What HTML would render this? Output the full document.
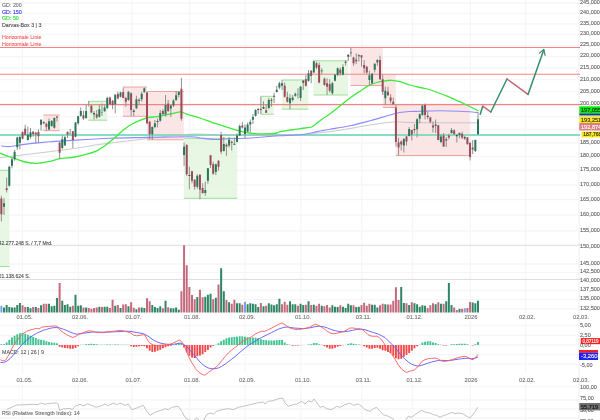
<!DOCTYPE html>
<html><head><meta charset="utf-8"><title>Chart</title>
<style>html,body{margin:0;padding:0;background:#fff;width:600px;height:420px;overflow:hidden}svg{display:block;filter:blur(0.35px)}</style>
</head><body>
<svg width="600" height="420" viewBox="0 0 600 420" font-family="Liberation Sans, sans-serif" font-size="5.3">
<rect width="600" height="420" fill="#fff"/>
<path d="M0 3.0H579 M0 13.3H579 M0 23.8H579 M0 34.5H579 M0 45.4H579 M0 56.6H579 M0 68.0H579 M0 79.7H579 M0 91.7H579 M0 104.0H579 M0 116.6H579 M0 129.5H579 M0 142.8H579 M0 156.5H579 M0 170.5H579 M0 184.9H579 M0 199.7H579 M0 215.1H579 M0 230.9H579 M0 264.0H579 M0 272.7H579 M0 290.5H579 M0 299.6H579 M0 308.9H579 M0 325.3H579 M0 335.3H579 M0 345.0H579 M0 354.7H579 M0 364.2H579 M0 386.3H579 M0 400.0H579 M0 409.0H579 M0 418.2H579 M22.5 0V313M22.5 321V374M22.5 384V420 M78.5 0V313M78.5 321V374M78.5 384V420 M132 0V313M132 321V374M132 384V420 M189.5 0V313M189.5 321V374M189.5 384V420 M245 0V313M245 321V374M245 384V420 M300.8 0V313M300.8 321V374M300.8 384V420 M361.8 0V313M361.8 321V374M361.8 384V420 M412.5 0V313M412.5 321V374M412.5 384V420 M470.4 0V313M470.4 321V374M470.4 384V420 M525.5 0V313M525.5 321V374M525.5 384V420" stroke="#f6f6f6" stroke-width="1.3" fill="none"/>
<path d="M579 0V420" stroke="#ededed" stroke-width="1"/>
<path d="M0 245.3H581M0 279.4H581" stroke="#dcdce0" stroke-width="1"/>
<rect x="0" y="170.3" width="9.5" height="96.2" fill="#e2f5dc" fill-opacity="0.8"/>
<path d="M0 170.3H9.5M0 266.5H9.5" stroke="#93db8e" stroke-width="0.9"/>
<rect x="43.3" y="115" width="16.4" height="15.7" fill="#fae0e0" fill-opacity="0.8"/>
<path d="M43.3 115H59.7M43.3 130.7H59.7" stroke="#ec9a9a" stroke-width="0.9"/>
<rect x="88.4" y="101.3" width="18.8" height="18.9" fill="#e2f5dc" fill-opacity="0.8"/>
<path d="M88.4 101.3H107.2M88.4 120.2H107.2" stroke="#93db8e" stroke-width="0.9"/>
<rect x="123" y="87" width="24.0" height="29.3" fill="#fae0e0" fill-opacity="0.8"/>
<path d="M123 87H147M123 116.3H147" stroke="#ec9a9a" stroke-width="0.9"/>
<rect x="147" y="91.5" width="36.8" height="48.3" fill="#fae0e0" fill-opacity="0.8"/>
<path d="M147 91.5H183.8M147 139.8H183.8" stroke="#ec9a9a" stroke-width="0.9"/>
<rect x="183.8" y="138.3" width="53.4" height="60.0" fill="#e2f5dc" fill-opacity="0.8"/>
<path d="M183.8 138.3H237.2M183.8 198.3H237.2" stroke="#93db8e" stroke-width="0.9"/>
<rect x="260.5" y="96.3" width="13.3" height="17.9" fill="#e2f5dc" fill-opacity="0.8"/>
<path d="M260.5 96.3H273.8M260.5 114.2H273.8" stroke="#93db8e" stroke-width="0.9"/>
<rect x="282" y="80" width="26.3" height="29.2" fill="#e2f5dc" fill-opacity="0.8"/>
<path d="M282 80H308.3M282 109.2H308.3" stroke="#93db8e" stroke-width="0.9"/>
<rect x="313.7" y="60.8" width="34.3" height="34.2" fill="#e2f5dc" fill-opacity="0.8"/>
<path d="M313.7 60.8H348M313.7 95H348" stroke="#93db8e" stroke-width="0.9"/>
<rect x="350.5" y="47.5" width="32.3" height="38.0" fill="#fae0e0" fill-opacity="0.8"/>
<path d="M350.5 85.5H382.8" stroke="#ec9a9a" stroke-width="0.9"/>
<rect x="382.8" y="74.5" width="13.0" height="33.0" fill="#fae0e0" fill-opacity="0.8"/>
<path d="M382.8 107.5H395.8" stroke="#ec9a9a" stroke-width="0.9"/>
<rect x="395.8" y="104.6" width="73.9" height="50.9" fill="#fae0e0" fill-opacity="0.8"/>
<path d="M395.8 155.5H469.7" stroke="#ec9a9a" stroke-width="0.9"/>
<path d="M0 47.5H580" stroke="#f28484" stroke-width="1.1"/>
<path d="M0 74.3H580" stroke="#f28484" stroke-width="1.1"/>
<path d="M0 104.6H580" stroke="#f28484" stroke-width="1.1"/>
<path d="M0 135H580" stroke="#86dec2" stroke-width="2.1"/>
<path d="M0.0 157.7C10.5 156.4 48.0 151.9 63.0 150.0C78.0 148.1 84.7 146.8 90.0 146.0C95.3 145.2 86.7 146.1 95.0 145.0C103.3 143.9 124.2 141.3 140.0 139.5C155.8 137.7 175.0 134.9 190.0 134.2C205.0 133.5 216.7 135.3 230.0 135.5C243.3 135.7 257.2 135.5 270.0 135.3C282.8 135.1 298.9 134.6 306.7 134.2C314.5 133.8 312.8 133.4 316.7 133.0C320.6 132.6 324.4 132.4 330.0 131.7C335.6 130.9 343.3 129.6 350.0 128.5C356.7 127.4 362.8 126.1 370.0 125.0C377.2 123.9 386.6 122.4 393.3 122.0C400.0 121.6 402.2 122.4 410.0 122.5C417.8 122.6 428.8 122.8 440.0 122.8C451.2 122.8 470.8 122.8 477.0 122.8" stroke="#bdbdbd" stroke-width="0.8" fill="none" stroke-linejoin="round" stroke-linecap="round" stroke-opacity="1"/>
<path d="M1.5 146.0C2.1 146.1 3.6 146.4 5.0 146.5C6.4 146.6 7.5 146.8 10.0 146.5C12.5 146.2 16.7 145.5 20.0 145.0C23.3 144.5 25.0 144.1 30.0 143.6C35.0 143.1 45.0 142.2 50.0 141.8C55.0 141.4 53.3 141.5 60.0 141.1C66.7 140.7 81.7 139.8 90.0 139.3C98.3 138.8 101.7 138.5 110.0 138.2C118.3 137.9 126.7 137.8 140.0 137.6C153.3 137.3 180.0 136.6 190.0 136.7C200.0 136.8 195.8 137.5 200.0 138.0C204.2 138.5 210.0 139.4 215.0 139.5C220.0 139.6 224.7 138.7 230.0 138.5C235.3 138.3 241.1 138.6 246.7 138.3C252.2 138.1 257.8 137.4 263.3 137.0C268.9 136.6 274.4 136.1 280.0 135.8C285.6 135.5 292.5 135.3 296.7 135.0C300.9 134.7 302.2 134.6 305.0 134.2C307.8 133.8 310.5 133.1 313.3 132.5C316.1 131.9 318.9 131.4 321.7 130.8C324.5 130.2 325.3 130.0 330.0 129.2C334.7 128.4 343.3 127.2 350.0 125.8C356.7 124.4 363.3 122.6 370.0 120.8C376.7 119.0 385.0 116.4 390.0 115.0C395.0 113.6 396.7 113.1 400.0 112.5C403.3 111.9 406.7 111.7 410.0 111.5C413.3 111.3 415.0 111.4 420.0 111.3C425.0 111.2 433.3 110.8 440.0 110.8C446.7 110.8 453.7 111.0 460.0 111.3C466.3 111.6 475.0 112.3 478.0 112.5" stroke="#8c8cff" stroke-width="1.1" fill="none" stroke-linejoin="round" stroke-linecap="round" stroke-opacity="1"/>
<path d="M0.0 153.0C0.5 153.2 1.3 153.6 3.0 154.3C4.7 155.0 7.7 156.2 10.0 157.0C12.3 157.8 14.2 158.4 16.7 159.2C19.2 160.0 21.7 161.3 25.0 162.0C28.3 162.7 32.5 163.4 36.7 163.3C40.9 163.2 46.1 162.1 50.0 161.3C53.9 160.5 55.8 159.4 60.0 158.7C64.2 158.0 70.5 157.8 75.0 157.0C79.5 156.2 83.1 155.2 86.7 154.2C90.3 153.2 93.5 152.3 96.7 150.8C99.9 149.3 102.8 147.2 105.8 145.0C108.8 142.8 112.1 140.0 115.0 137.5C117.9 135.0 120.5 132.2 123.3 130.0C126.1 127.8 128.9 125.9 131.7 124.3C134.5 122.7 137.2 121.4 140.0 120.3C142.8 119.2 145.5 118.1 148.3 117.5C151.1 116.9 153.9 117.1 156.7 116.7C159.5 116.3 162.2 115.6 165.0 115.0C167.8 114.4 170.7 113.8 173.3 113.3C175.9 112.8 178.6 111.6 180.8 111.8C183.0 112.0 183.5 113.2 186.7 114.2C189.9 115.2 195.8 116.7 200.0 118.0C204.2 119.3 208.4 121.1 211.7 122.3C215.0 123.5 216.9 123.9 220.0 124.9C223.1 125.9 226.9 127.2 230.0 128.2C233.1 129.1 235.5 129.9 238.3 130.6C241.1 131.3 243.9 132.0 246.7 132.5C249.5 133.0 252.2 133.4 255.0 133.6C257.8 133.8 260.5 133.8 263.3 133.8C266.1 133.8 269.5 133.8 271.7 133.7C273.9 133.6 275.3 133.3 276.7 133.0C278.1 132.7 278.1 132.1 280.0 131.7C281.9 131.2 285.5 130.7 288.3 130.3C291.1 129.9 293.9 129.6 296.7 129.2C299.5 128.8 302.5 128.4 305.0 128.0C307.5 127.6 309.8 127.8 311.7 127.0C313.6 126.2 314.8 124.8 316.7 123.3C318.6 121.8 321.1 119.9 323.3 118.3C325.5 116.7 328.1 115.1 330.0 113.7C331.9 112.3 332.8 111.7 335.0 110.0C337.2 108.3 340.5 105.5 343.3 103.3C346.1 101.1 348.9 98.7 351.7 96.7C354.5 94.7 357.2 93.0 360.0 91.2C362.8 89.4 365.5 87.2 368.3 85.8C371.1 84.3 373.9 83.3 376.7 82.5C379.5 81.7 382.5 81.2 385.0 80.8C387.5 80.4 389.2 80.1 391.7 80.3C394.2 80.5 396.9 80.9 400.0 81.7C403.1 82.5 406.7 84.0 410.0 85.0C413.3 86.0 416.5 86.7 420.0 87.5C423.5 88.3 426.1 88.5 430.8 90.0C435.5 91.5 442.3 94.2 448.3 96.7C454.3 99.2 461.8 102.7 466.7 105.0C471.6 107.3 476.1 109.8 478.0 110.8" stroke="#3cea3c" stroke-width="1.3" fill="none" stroke-linejoin="round" stroke-linecap="round" stroke-opacity="1"/>
<path d="M478.00 112.5V134.5 M475.35 139.5V152.0 M472.70 140.0V154.0 M470.06 141.7V160.5 M467.41 137.0V144.5 M464.76 135.8V140.0 M462.11 131.7V139.2 M459.46 132.5V138.3 M456.82 134.2V142.5 M454.17 129.2V134.7 M451.52 128.0V133.7 M448.87 133.7V139.5 M446.22 137.0V147.0 M443.58 133.0V147.0 M440.93 134.2V143.3 M438.28 125.0V140.3 M435.63 119.5V133.0 M432.98 121.5V132.5 M430.34 116.7V123.3 M427.69 111.7V119.2 M425.04 103.5V119.5 M422.39 105.0V115.8 M419.74 113.3V123.3 M417.10 118.3V137.5 M414.45 124.0V133.5 M411.80 129.5V140.5 M409.15 127.0V136.5 M406.50 136.0V145.5 M403.86 138.0V152.5 M401.21 140.5V150.5 M398.56 138.0V155.5 M395.91 105.0V146.5 M393.26 97.5V105.0 M390.62 94.2V103.3 M387.97 86.7V95.8 M385.32 86.7V105.0 M382.67 75.0V95.0 M380.02 55.8V80.0 M377.38 59.2V65.8 M374.73 63.3V72.5 M372.08 73.0V84.2 M369.43 70.8V85.8 M366.78 65.8V73.7 M364.14 60.0V73.3 M361.49 55.0V66.7 M358.84 54.2V61.7 M356.19 53.3V64.2 M353.54 56.7V65.8 M350.90 48.0V56.7 M348.25 54.2V60.8 M345.60 60.3V65.6 M342.95 64.2V75.3 M340.30 67.5V75.8 M337.66 67.5V76.3 M335.01 74.2V81.3 M332.36 81.7V94.7 M329.71 79.2V92.5 M327.06 78.3V95.0 M324.42 77.5V85.8 M321.77 68.3V74.2 M319.12 62.5V83.3 M316.47 61.7V69.2 M313.82 60.5V73.0 M311.18 70.0V83.3 M308.53 70.0V81.7 M305.88 75.0V86.7 M303.23 80.0V90.0 M300.58 86.0V101.0 M297.94 88.3V98.7 M295.29 92.5V96.7 M292.64 95.0V101.7 M289.99 94.2V109.2 M287.34 91.7V102.5 M284.70 82.5V97.5 M282.05 80.0V90.0 M279.40 81.7V89.2 M276.75 85.8V92.5 M274.10 92.7V103.0 M271.46 98.0V106.7 M268.81 98.0V109.3 M266.16 104.7V113.0 M263.51 101.3V109.0 M260.86 96.7V114.0 M258.22 108.0V114.0 M255.57 109.2V116.7 M252.92 114.0V124.0 M250.27 119.5V132.0 M247.62 122.5V132.0 M244.98 124.5V138.5 M242.33 122.0V128.5 M239.68 124.5V136.0 M237.03 133.5V142.5 M234.38 137.5V145.0 M231.74 140.5V150.5 M229.09 137.0V147.5 M226.44 143.3V155.8 M223.79 137.0V151.5 M221.14 131.7V154.2 M218.50 160.3V170.8 M215.85 163.7V175.0 M213.20 161.7V174.7 M210.55 155.0V168.0 M207.90 168.0V183.7 M205.26 181.7V195.8 M202.61 183.3V193.7 M199.96 174.2V199.2 M197.31 174.2V188.7 M194.66 179.2V189.7 M192.02 170.8V183.3 M189.37 166.7V189.2 M186.72 144.2V175.8 M184.07 142.5V165.8 M181.42 78.0V120.8 M178.78 91.0V97.5 M176.13 91.0V101.0 M173.48 99.2V107.0 M170.83 105.0V117.0 M168.18 100.0V112.0 M165.54 95.0V116.7 M162.89 109.2V115.0 M160.24 110.0V121.7 M157.59 118.5V127.5 M154.94 120.0V128.3 M152.30 126.3V140.0 M149.65 120.8V139.2 M147.00 91.7V124.2 M144.35 87.5V92.5 M141.70 91.7V101.7 M139.06 98.3V105.0 M136.41 95.8V109.2 M133.76 109.0V116.0 M131.11 92.5V115.8 M128.46 91.3V100.8 M125.82 96.7V106.7 M123.17 87.5V98.3 M120.52 91.7V97.5 M117.87 91.7V99.2 M115.22 94.2V113.3 M112.58 100.0V109.2 M109.93 96.7V105.0 M107.28 96.7V109.2 M104.63 105.0V111.7 M101.98 103.5V116.0 M99.34 105.0V117.5 M96.69 110.0V118.7 M94.04 111.0V119.5 M91.39 105.0V113.3 M88.74 101.0V106.5 M86.10 104.7V118.7 M83.45 110.7V120.0 M80.80 107.3V116.7 M78.15 115.7V124.7 M75.50 122.0V137.3 M72.86 131.0V148.0 M70.21 129.0V134.5 M67.56 131.3V138.0 M64.91 136.0V146.0 M62.26 135.3V149.3 M59.62 141.3V159.2 M56.97 116.3V121.5 M54.32 117.3V128.7 M51.67 120.0V126.7 M49.02 118.4V130.4 M46.38 122.7V130.7 M43.73 121.3V124.0 M41.08 119.3V130.7 M38.43 129.3V142.7 M35.78 132.0V143.3 M33.14 131.0V136.7 M30.49 128.0V138.7 M27.84 126.7V140.7 M25.19 124.7V135.3 M22.54 131.3V139.3 M19.90 136.0V149.3 M17.25 136.7V150.0 M14.60 150.0V160.8 M11.95 157.5V168.3 M9.30 165.8V186.7 M6.66 177.5V192.5 M4.01 198.3V215.0 M1.36 195.8V221.5" stroke="#8a8a8a" stroke-width="0.95" fill="none"/>
<path d="M477.00 119.2h2.0v15.0h-2.0z M474.35 140.0h2.0v11.0h-2.0z M458.46 133.0h2.0v2.0h-2.0z M450.52 130.0h2.0v3.0h-2.0z M439.93 136.5h2.0v5.5h-2.0z M434.63 124.5h2.0v1.5h-2.0z M421.39 105.8h2.0v9.2h-2.0z M418.74 114.2h2.0v4.5h-2.0z M416.10 119.2h2.0v10.0h-2.0z M408.15 129.0h2.0v7.0h-2.0z M402.86 139.0h2.0v6.5h-2.0z M384.32 90.8h2.0v7.5h-2.0z M376.38 60.0h2.0v2.5h-2.0z M373.73 63.7h2.0v6.0h-2.0z M371.08 73.7h2.0v9.6h-2.0z M368.43 75.3h2.0v4.7h-2.0z M355.19 59.7h2.0v1.6h-2.0z M341.95 67.0h2.0v7.7h-2.0z M336.66 68.3h2.0v6.7h-2.0z M334.01 74.7h2.0v6.1h-2.0z M331.36 83.3h2.0v10.0h-2.0z M312.82 61.3h2.0v11.2h-2.0z M307.53 73.3h2.0v7.5h-2.0z M299.58 86.7h2.0v11.3h-2.0z M294.29 93.7h2.0v2.1h-2.0z M291.64 97.5h2.0v2.5h-2.0z M288.99 98.3h2.0v5.0h-2.0z M281.05 83.3h2.0v2.5h-2.0z M278.40 83.3h2.0v4.2h-2.0z M275.75 89.7h2.0v2.3h-2.0z M267.81 100.0h2.0v8.0h-2.0z M254.57 110.0h2.0v5.8h-2.0z M251.92 117.0h2.0v2.8h-2.0z M249.27 122.0h2.0v2.5h-2.0z M246.62 124.5h2.0v7.0h-2.0z M243.98 127.5h2.0v6.5h-2.0z M238.68 126.0h2.0v9.5h-2.0z M236.03 135.5h2.0v6.5h-2.0z M228.09 139.5h2.0v6.0h-2.0z M222.79 144.0h2.0v7.0h-2.0z M214.85 164.2h2.0v7.8h-2.0z M206.90 168.3h2.0v12.5h-2.0z M204.26 190.0h2.0v3.0h-2.0z M196.31 175.8h2.0v10.9h-2.0z M183.07 146.7h2.0v8.3h-2.0z M177.78 92.0h2.0v3.0h-2.0z M175.13 95.3h2.0v4.7h-2.0z M172.48 100.5h2.0v5.0h-2.0z M169.83 105.5h2.0v3.0h-2.0z M164.54 105.0h2.0v9.2h-2.0z M159.24 113.0h2.0v7.8h-2.0z M153.94 123.3h2.0v3.7h-2.0z M151.30 127.0h2.0v7.2h-2.0z M143.35 88.3h2.0v3.9h-2.0z M140.70 93.7h2.0v5.5h-2.0z M135.41 99.2h2.0v9.1h-2.0z M127.46 91.7h2.0v8.3h-2.0z M119.52 92.5h2.0v4.2h-2.0z M114.22 94.7h2.0v9.5h-2.0z M106.28 98.0h2.0v10.0h-2.0z M103.63 107.5h2.0v3.8h-2.0z M98.34 109.2h2.0v7.5h-2.0z M85.10 111.0h2.0v7.0h-2.0z M79.80 111.0h2.0v4.7h-2.0z M77.15 116.3h2.0v7.0h-2.0z M74.50 122.4h2.0v14.3h-2.0z M63.91 137.3h2.0v8.0h-2.0z M61.26 139.3h2.0v8.7h-2.0z M53.32 118.0h2.0v9.7h-2.0z M50.67 121.0h2.0v5.0h-2.0z M48.02 121.3h2.0v8.3h-2.0z M40.08 119.7h2.0v5.0h-2.0z M29.49 132.3h2.0v4.7h-2.0z M26.84 134.4h2.0v5.6h-2.0z M18.90 137.0h2.0v5.7h-2.0z M16.25 137.6h2.0v9.7h-2.0z M13.60 151.7h2.0v7.5h-2.0z M10.95 159.2h2.0v6.6h-2.0z M8.30 166.7h2.0v19.1h-2.0z M3.01 203.3h2.0v3.4h-2.0z" fill="#2a7659"/>
<path d="M471.70 147.5h2.0v2.0h-2.0z M469.06 143.0h2.0v14.0h-2.0z M466.41 137.5h2.0v6.7h-2.0z M461.11 133.7h2.0v3.8h-2.0z M453.17 130.5h2.0v3.7h-2.0z M447.87 135.5h2.0v2.0h-2.0z M442.58 135.5h2.0v11.0h-2.0z M437.28 125.3h2.0v14.7h-2.0z M431.98 125.5h2.0v2.0h-2.0z M429.34 117.5h2.0v4.2h-2.0z M424.04 105.0h2.0v10.0h-2.0z M410.80 130.0h2.0v4.5h-2.0z M405.50 136.5h2.0v5.0h-2.0z M400.21 141.5h2.0v3.0h-2.0z M397.56 142.5h2.0v5.0h-2.0z M394.91 107.4h2.0v34.6h-2.0z M392.26 101.7h2.0v2.5h-2.0z M389.62 97.5h2.0v3.3h-2.0z M386.97 91.7h2.0v3.6h-2.0z M381.67 79.2h2.0v12.5h-2.0z M379.02 60.0h2.0v19.2h-2.0z M365.78 66.7h2.0v5.8h-2.0z M363.14 65.0h2.0v3.3h-2.0z M360.49 55.3h2.0v2.2h-2.0z M352.54 57.5h2.0v5.8h-2.0z M339.30 69.7h2.0v3.6h-2.0z M328.71 84.2h2.0v6.6h-2.0z M326.06 83.3h2.0v3.4h-2.0z M323.42 78.7h2.0v6.3h-2.0z M318.12 65.0h2.0v17.5h-2.0z M315.47 63.3h2.0v4.2h-2.0z M310.18 70.8h2.0v5.2h-2.0z M304.88 79.2h2.0v6.6h-2.0z M286.34 97.0h2.0v4.7h-2.0z M283.70 85.8h2.0v10.9h-2.0z M265.16 110.3h2.0v2.4h-2.0z M259.86 109.0h2.0v1.0h-2.0z M241.33 125.5h2.0v2.0h-2.0z M230.74 141.8h2.0v1.2h-2.0z M225.44 144.7h2.0v1.8h-2.0z M220.14 135.0h2.0v16.7h-2.0z M217.50 160.8h2.0v5.9h-2.0z M212.20 164.2h2.0v9.5h-2.0z M209.55 155.3h2.0v9.7h-2.0z M201.61 188.0h2.0v5.0h-2.0z M198.96 174.7h2.0v15.0h-2.0z M193.66 179.7h2.0v7.0h-2.0z M191.02 171.3h2.0v9.5h-2.0z M185.72 145.0h2.0v29.2h-2.0z M180.42 88.7h2.0v30.0h-2.0z M167.18 103.5h2.0v7.5h-2.0z M161.89 111.0h2.0v3.0h-2.0z M148.65 121.7h2.0v12.5h-2.0z M146.00 92.5h2.0v30.8h-2.0z M130.11 93.3h2.0v16.7h-2.0z M124.82 98.0h2.0v3.7h-2.0z M122.17 92.0h2.0v6.0h-2.0z M116.87 94.0h2.0v4.5h-2.0z M111.58 100.8h2.0v4.2h-2.0z M108.93 97.5h2.0v6.7h-2.0z M95.69 114.2h2.0v3.3h-2.0z M90.39 105.8h2.0v6.7h-2.0z M82.45 115.3h2.0v3.1h-2.0z M71.86 131.3h2.0v8.7h-2.0z M66.56 132.0h2.0v2.4h-2.0z M58.62 142.7h2.0v10.0h-2.0z M45.38 123.7h2.0v3.0h-2.0z M42.73 122.0h2.0v1.3h-2.0z M37.43 132.0h2.0v4.3h-2.0z M34.78 132.7h2.0v1.7h-2.0z M32.14 131.7h2.0v2.3h-2.0z M24.19 128.7h2.0v6.0h-2.0z M21.54 132.0h2.0v6.7h-2.0z M5.66 188.3h2.0v1.7h-2.0z M0.36 198.5h2.0v15.7h-2.0z" fill="#9a4c5b"/>
<path d="M463.76 137.0h2.0v1.5h-2.0z M455.82 135.0h2.0v1.3h-2.0z M445.22 139.2h2.0v1.3h-2.0z M426.69 115.8h2.0v1.1h-2.0z M413.45 129.0h2.0v1.0h-2.0z M357.84 55.3h2.0v0.9h-2.0z M349.90 52.4h2.0v0.9h-2.0z M347.25 54.7h2.0v2.0h-2.0z M344.60 61.8h2.0v0.9h-2.0z M320.77 70.4h2.0v0.9h-2.0z M302.23 80.7h2.0v2.0h-2.0z M273.10 95.7h2.0v1.0h-2.0z M270.46 99.7h2.0v1.0h-2.0z M262.51 107.0h2.0v1.7h-2.0z M257.22 109.0h2.0v0.9h-2.0z M233.38 143.8h2.0v0.9h-2.0z M188.37 175.0h2.0v0.9h-2.0z M156.59 121.0h2.0v1.0h-2.0z M138.06 99.7h2.0v1.1h-2.0z M132.76 110.5h2.0v1.5h-2.0z M93.04 113.0h2.0v1.5h-2.0z M55.97 116.6h2.0v0.9h-2.0z" fill="#4c5250"/>
<path d="M296.94 93.9h2.0v0.9h-2.0z M100.98 112.0h2.0v1.0h-2.0z M87.74 104.2h2.0v0.9h-2.0z M69.21 132.9h2.0v0.9h-2.0z" fill="#9a9a9a"/>
<path d="M480.2 114.2L482.7 106.2" stroke="#348f6c" stroke-width="1.5" fill="none" stroke-linecap="round"/>
<path d="M482.7 106.2L490.8 112" stroke="#c2626f" stroke-width="1.5" fill="none" stroke-linecap="round"/>
<path d="M490.8 112L507 79" stroke="#348f6c" stroke-width="1.5" fill="none" stroke-linecap="round"/>
<path d="M507 79L528 94.4" stroke="#c2626f" stroke-width="1.5" fill="none" stroke-linecap="round"/>
<path d="M528 94.4L543.7 50" stroke="#348f6c" stroke-width="1.5" fill="none" stroke-linecap="round"/>
<path d="M539.4 53.1L543.8 49.5L545.1 55.4" stroke="#348f6c" stroke-width="1.2" fill="none" stroke-linecap="round" stroke-linejoin="round"/>
<path d="M3.01 307.5h2.0v5.0h-2.0z M5.66 305.0h2.0v7.5h-2.0z M8.30 307.0h2.0v5.5h-2.0z M10.95 307.5h2.0v5.0h-2.0z M13.60 307.5h2.0v5.0h-2.0z M16.25 305.0h2.0v7.5h-2.0z M18.90 303.0h2.0v9.5h-2.0z M26.84 307.0h2.0v5.5h-2.0z M29.49 308.3h2.0v4.2h-2.0z M34.78 307.0h2.0v5.5h-2.0z M40.08 305.3h2.0v7.2h-2.0z M48.02 303.8h2.0v8.7h-2.0z M50.67 306.3h2.0v6.2h-2.0z M53.32 305.8h2.0v6.7h-2.0z M55.97 298.0h2.0v14.5h-2.0z M61.26 300.8h2.0v11.7h-2.0z M63.91 305.0h2.0v7.5h-2.0z M66.56 304.2h2.0v8.3h-2.0z M69.21 306.7h2.0v5.8h-2.0z M74.50 294.7h2.0v17.8h-2.0z M77.15 305.8h2.0v6.7h-2.0z M79.80 305.3h2.0v7.2h-2.0z M85.10 307.5h2.0v5.0h-2.0z M98.34 306.7h2.0v5.8h-2.0z M103.63 306.7h2.0v5.8h-2.0z M106.28 306.7h2.0v5.8h-2.0z M114.22 305.8h2.0v6.7h-2.0z M119.52 308.0h2.0v4.5h-2.0z M127.46 306.2h2.0v6.3h-2.0z M135.41 309.2h2.0v3.3h-2.0z M140.70 307.5h2.0v5.0h-2.0z M143.35 308.0h2.0v4.5h-2.0z M151.30 305.0h2.0v7.5h-2.0z M153.94 307.0h2.0v5.5h-2.0z M156.59 308.0h2.0v4.5h-2.0z M159.24 306.3h2.0v6.2h-2.0z M164.54 300.8h2.0v11.7h-2.0z M169.83 308.3h2.0v4.2h-2.0z M172.48 308.3h2.0v4.2h-2.0z M175.13 307.5h2.0v5.0h-2.0z M177.78 309.7h2.0v2.8h-2.0z M196.31 297.0h2.0v15.5h-2.0z M204.26 296.7h2.0v15.8h-2.0z M206.90 294.7h2.0v17.8h-2.0z M209.55 293.8h2.0v18.7h-2.0z M214.85 297.8h2.0v14.7h-2.0z M220.14 268.3h2.0v44.2h-2.0z M222.79 291.2h2.0v21.3h-2.0z M228.09 302.2h2.0v10.3h-2.0z M236.03 303.3h2.0v9.2h-2.0z M238.68 303.3h2.0v9.2h-2.0z M246.62 304.2h2.0v8.3h-2.0z M249.27 303.3h2.0v9.2h-2.0z M251.92 303.8h2.0v8.7h-2.0z M254.57 304.2h2.0v8.3h-2.0z M257.22 307.0h2.0v5.5h-2.0z M262.51 306.3h2.0v6.2h-2.0z M267.81 303.3h2.0v9.2h-2.0z M270.46 304.5h2.0v8.0h-2.0z M273.10 305.3h2.0v7.2h-2.0z M275.75 304.2h2.0v8.3h-2.0z M278.40 298.8h2.0v13.7h-2.0z M288.99 301.3h2.0v11.2h-2.0z M291.64 304.2h2.0v8.3h-2.0z M294.29 304.2h2.0v8.3h-2.0z M299.58 303.7h2.0v8.8h-2.0z M302.23 305.0h2.0v7.5h-2.0z M307.53 301.2h2.0v11.3h-2.0z M312.82 304.7h2.0v7.8h-2.0z M320.77 305.8h2.0v6.7h-2.0z M331.36 305.3h2.0v7.2h-2.0z M334.01 306.7h2.0v5.8h-2.0z M336.66 307.0h2.0v5.5h-2.0z M341.95 306.7h2.0v5.8h-2.0z M344.60 308.0h2.0v4.5h-2.0z M347.25 303.8h2.0v8.7h-2.0z M349.90 305.3h2.0v7.2h-2.0z M355.19 307.0h2.0v5.5h-2.0z M357.84 306.7h2.0v5.8h-2.0z M371.08 304.7h2.0v7.8h-2.0z M373.73 304.7h2.0v7.8h-2.0z M376.38 307.5h2.0v5.0h-2.0z M384.32 304.2h2.0v8.3h-2.0z M400.21 287.0h2.0v25.5h-2.0z M402.86 303.0h2.0v9.5h-2.0z M408.15 305.0h2.0v7.5h-2.0z M413.45 303.3h2.0v9.2h-2.0z M416.10 304.2h2.0v8.3h-2.0z M418.74 306.7h2.0v5.8h-2.0z M421.39 305.3h2.0v7.2h-2.0z M424.04 305.8h2.0v6.7h-2.0z M434.63 304.2h2.0v8.3h-2.0z M439.93 303.7h2.0v8.8h-2.0z M445.22 301.3h2.0v11.2h-2.0z M447.87 283.0h2.0v29.5h-2.0z M450.52 305.0h2.0v7.5h-2.0z M458.46 308.8h2.0v3.7h-2.0z M471.70 302.5h2.0v10.0h-2.0z M474.35 303.3h2.0v9.2h-2.0z M477.00 300.8h2.0v11.7h-2.0z" fill="#2f8566"/>
<path d="M21.54 305.3h2.0v7.2h-2.0z M24.19 307.0h2.0v5.5h-2.0z M32.14 307.0h2.0v5.5h-2.0z M37.43 308.0h2.0v4.5h-2.0z M42.73 303.8h2.0v8.7h-2.0z M45.38 303.8h2.0v8.7h-2.0z M58.62 283.0h2.0v29.5h-2.0z M71.86 305.8h2.0v6.7h-2.0z M82.45 307.5h2.0v5.0h-2.0z M87.74 308.0h2.0v4.5h-2.0z M90.39 308.7h2.0v3.8h-2.0z M93.04 308.0h2.0v4.5h-2.0z M95.69 307.5h2.0v5.0h-2.0z M100.98 307.0h2.0v5.5h-2.0z M108.93 308.0h2.0v4.5h-2.0z M111.58 299.7h2.0v12.8h-2.0z M116.87 305.0h2.0v7.5h-2.0z M122.17 304.5h2.0v8.0h-2.0z M124.82 304.2h2.0v8.3h-2.0z M130.11 302.2h2.0v10.3h-2.0z M132.76 307.8h2.0v4.7h-2.0z M138.06 307.5h2.0v5.0h-2.0z M146.00 298.3h2.0v14.2h-2.0z M148.65 301.3h2.0v11.2h-2.0z M161.89 308.3h2.0v4.2h-2.0z M167.18 307.2h2.0v5.3h-2.0z M180.42 291.3h2.0v21.2h-2.0z M183.07 245.3h2.0v67.2h-2.0z M185.72 265.3h2.0v47.2h-2.0z M188.37 287.0h2.0v25.5h-2.0z M191.02 295.0h2.0v17.5h-2.0z M193.66 299.2h2.0v13.3h-2.0z M198.96 289.7h2.0v22.8h-2.0z M201.61 297.2h2.0v15.3h-2.0z M212.20 299.2h2.0v13.3h-2.0z M217.50 284.5h2.0v28.0h-2.0z M225.44 300.0h2.0v12.5h-2.0z M230.74 303.8h2.0v8.7h-2.0z M233.38 299.7h2.0v12.8h-2.0z M241.33 304.7h2.0v7.8h-2.0z M259.86 303.0h2.0v9.5h-2.0z M265.16 305.8h2.0v6.7h-2.0z M281.05 304.2h2.0v8.3h-2.0z M283.70 301.7h2.0v10.8h-2.0z M286.34 304.7h2.0v7.8h-2.0z M296.94 305.8h2.0v6.7h-2.0z M304.88 304.7h2.0v7.8h-2.0z M310.18 305.0h2.0v7.5h-2.0z M315.47 305.8h2.0v6.7h-2.0z M318.12 303.8h2.0v8.7h-2.0z M323.42 306.2h2.0v6.3h-2.0z M326.06 305.0h2.0v7.5h-2.0z M328.71 307.5h2.0v5.0h-2.0z M339.30 305.3h2.0v7.2h-2.0z M352.54 305.3h2.0v7.2h-2.0z M360.49 305.0h2.0v7.5h-2.0z M363.14 302.8h2.0v9.7h-2.0z M365.78 305.8h2.0v6.7h-2.0z M368.43 303.8h2.0v8.7h-2.0z M379.02 305.3h2.0v7.2h-2.0z M381.67 303.8h2.0v8.7h-2.0z M386.97 304.5h2.0v8.0h-2.0z M389.62 304.5h2.0v8.0h-2.0z M392.26 300.8h2.0v11.7h-2.0z M394.91 287.2h2.0v25.3h-2.0z M397.56 300.0h2.0v12.5h-2.0z M405.50 303.3h2.0v9.2h-2.0z M410.80 302.2h2.0v10.3h-2.0z M426.69 308.0h2.0v4.5h-2.0z M429.34 305.3h2.0v7.2h-2.0z M431.98 303.3h2.0v9.2h-2.0z M437.28 302.2h2.0v10.3h-2.0z M442.58 303.7h2.0v8.8h-2.0z M453.17 307.5h2.0v5.0h-2.0z M455.82 310.0h2.0v2.5h-2.0z M461.11 308.8h2.0v3.7h-2.0z M466.41 308.0h2.0v4.5h-2.0z M469.06 302.0h2.0v10.5h-2.0z" fill="#c46a7c"/>
<path d="M0.36 305.8h2.0v6.7h-2.0z M243.98 301.7h2.0v10.8h-2.0z M463.76 308.3h2.0v4.2h-2.0z" fill="#7aa0e6"/>
<path d="M0.41 344.2h1.9v0.8h-1.9z M3.06 344.2h1.9v0.8h-1.9z M5.71 342.5h1.9v2.5h-1.9z M8.35 340.0h1.9v5.0h-1.9z M11.00 337.5h1.9v7.5h-1.9z M13.65 335.8h1.9v9.2h-1.9z M16.30 334.2h1.9v10.8h-1.9z M18.95 333.3h1.9v11.7h-1.9z M21.59 333.0h1.9v12.0h-1.9z M24.24 333.7h1.9v11.3h-1.9z M26.89 334.7h1.9v10.3h-1.9z M29.54 335.8h1.9v9.2h-1.9z M32.19 337.0h1.9v8.0h-1.9z M34.83 338.0h1.9v7.0h-1.9z M37.48 339.2h1.9v5.8h-1.9z M40.13 339.7h1.9v5.3h-1.9z M42.78 340.3h1.9v4.7h-1.9z M45.43 341.2h1.9v3.8h-1.9z M48.07 342.0h1.9v3.0h-1.9z M50.72 342.5h1.9v2.5h-1.9z M53.37 342.8h1.9v2.2h-1.9z M56.02 343.3h1.9v1.7h-1.9z M79.85 344.7h1.9v0.3h-1.9z M82.50 344.7h1.9v0.3h-1.9z M85.15 344.3h1.9v0.7h-1.9z M87.79 344.0h1.9v1.0h-1.9z M90.44 343.7h1.9v1.3h-1.9z M93.09 344.0h1.9v1.0h-1.9z M95.74 344.3h1.9v0.7h-1.9z M98.39 344.7h1.9v0.3h-1.9z M101.03 344.7h1.9v0.3h-1.9z M103.68 344.7h1.9v0.3h-1.9z M106.33 344.5h1.9v0.5h-1.9z M108.98 344.5h1.9v0.5h-1.9z M111.63 344.7h1.9v0.3h-1.9z M114.27 344.5h1.9v0.5h-1.9z M116.92 344.5h1.9v0.5h-1.9z M119.57 344.7h1.9v0.3h-1.9z M122.22 344.7h1.9v0.3h-1.9z M124.87 344.8h1.9v0.2h-1.9z M127.51 344.8h1.9v0.2h-1.9z M172.53 344.7h1.9v0.3h-1.9z M175.18 344.0h1.9v1.0h-1.9z M177.83 343.3h1.9v1.7h-1.9z M180.47 343.7h1.9v1.3h-1.9z M214.90 344.7h1.9v0.3h-1.9z M217.55 343.3h1.9v1.7h-1.9z M220.19 341.3h1.9v3.7h-1.9z M222.84 339.7h1.9v5.3h-1.9z M225.49 338.3h1.9v6.7h-1.9z M228.14 337.5h1.9v7.5h-1.9z M230.79 337.2h1.9v7.8h-1.9z M233.43 337.0h1.9v8.0h-1.9z M236.08 336.7h1.9v8.3h-1.9z M238.73 336.3h1.9v8.7h-1.9z M241.38 336.3h1.9v8.7h-1.9z M244.03 336.7h1.9v8.3h-1.9z M246.67 337.2h1.9v7.8h-1.9z M249.32 337.5h1.9v7.5h-1.9z M251.97 337.5h1.9v7.5h-1.9z M254.62 337.8h1.9v7.2h-1.9z M257.27 338.3h1.9v6.7h-1.9z M259.91 339.2h1.9v5.8h-1.9z M262.56 340.0h1.9v5.0h-1.9z M265.21 340.3h1.9v4.7h-1.9z M267.86 340.5h1.9v4.5h-1.9z M270.51 340.5h1.9v4.5h-1.9z M273.15 340.5h1.9v4.5h-1.9z M275.80 340.3h1.9v4.7h-1.9z M278.45 340.0h1.9v5.0h-1.9z M281.10 340.0h1.9v5.0h-1.9z M283.75 342.5h1.9v2.5h-1.9z M286.39 344.2h1.9v0.8h-1.9z M289.04 344.7h1.9v0.3h-1.9z M307.58 344.5h1.9v0.5h-1.9z M310.23 344.2h1.9v0.8h-1.9z M312.87 343.0h1.9v2.0h-1.9z M315.52 343.0h1.9v2.0h-1.9z M318.17 344.3h1.9v0.7h-1.9z M320.82 344.8h1.9v0.2h-1.9z M347.30 343.8h1.9v1.2h-1.9z M349.95 343.3h1.9v1.7h-1.9z M352.59 343.8h1.9v1.2h-1.9z M355.24 344.3h1.9v0.7h-1.9z M357.89 344.5h1.9v0.5h-1.9z M360.54 344.7h1.9v0.3h-1.9z M418.79 344.7h1.9v0.3h-1.9z M421.44 342.5h1.9v2.5h-1.9z M424.09 341.7h1.9v3.3h-1.9z M426.74 341.3h1.9v3.7h-1.9z M429.39 341.3h1.9v3.7h-1.9z M432.03 342.5h1.9v2.5h-1.9z M434.68 343.0h1.9v2.0h-1.9z M437.33 344.2h1.9v0.8h-1.9z M439.98 344.7h1.9v0.3h-1.9z M450.57 344.2h1.9v0.8h-1.9z M453.22 344.2h1.9v0.8h-1.9z M455.87 344.0h1.9v1.0h-1.9z M458.51 343.8h1.9v1.2h-1.9z M461.16 343.7h1.9v1.3h-1.9z M463.81 343.7h1.9v1.3h-1.9z M466.46 344.3h1.9v0.7h-1.9z M474.40 344.2h1.9v0.8h-1.9z M477.05 342.0h1.9v3.0h-1.9z" fill="#3fc391"/>
<path d="M58.67 345h1.9v1.7h-1.9z M61.31 345h1.9v2.5h-1.9z M63.96 345h1.9v3.0h-1.9z M66.61 345h1.9v3.3h-1.9z M69.26 345h1.9v3.7h-1.9z M71.91 345h1.9v3.8h-1.9z M74.55 345h1.9v3.0h-1.9z M77.20 345h1.9v1.3h-1.9z M130.16 345h1.9v1.3h-1.9z M132.81 345h1.9v2.0h-1.9z M135.46 345h1.9v1.7h-1.9z M138.11 345h1.9v1.3h-1.9z M140.75 345h1.9v1.0h-1.9z M143.40 345h1.9v1.3h-1.9z M146.05 345h1.9v3.3h-1.9z M148.70 345h1.9v5.8h-1.9z M151.35 345h1.9v7.0h-1.9z M153.99 345h1.9v6.7h-1.9z M156.64 345h1.9v5.8h-1.9z M159.29 345h1.9v4.7h-1.9z M161.94 345h1.9v3.3h-1.9z M164.59 345h1.9v2.2h-1.9z M167.23 345h1.9v1.3h-1.9z M169.88 345h1.9v0.7h-1.9z M183.12 345h1.9v2.5h-1.9z M185.77 345h1.9v7.5h-1.9z M188.42 345h1.9v10.8h-1.9z M191.07 345h1.9v12.5h-1.9z M193.71 345h1.9v13.0h-1.9z M196.36 345h1.9v11.3h-1.9z M199.01 345h1.9v10.5h-1.9z M201.66 345h1.9v9.2h-1.9z M204.31 345h1.9v7.0h-1.9z M206.95 345h1.9v5.0h-1.9z M209.60 345h1.9v2.5h-1.9z M212.25 345h1.9v0.8h-1.9z M291.69 345h1.9v0.7h-1.9z M294.34 345h1.9v0.5h-1.9z M296.99 345h1.9v0.5h-1.9z M299.63 345h1.9v0.3h-1.9z M323.47 345h1.9v1.3h-1.9z M326.11 345h1.9v2.5h-1.9z M328.76 345h1.9v3.7h-1.9z M331.41 345h1.9v3.8h-1.9z M334.06 345h1.9v2.8h-1.9z M336.71 345h1.9v1.7h-1.9z M339.35 345h1.9v1.0h-1.9z M342.00 345h1.9v0.3h-1.9z M363.19 345h1.9v1.3h-1.9z M365.83 345h1.9v2.5h-1.9z M368.48 345h1.9v3.7h-1.9z M371.13 345h1.9v3.8h-1.9z M373.78 345h1.9v3.0h-1.9z M376.43 345h1.9v2.7h-1.9z M379.07 345h1.9v3.8h-1.9z M381.72 345h1.9v5.3h-1.9z M384.37 345h1.9v5.8h-1.9z M387.02 345h1.9v7.0h-1.9z M389.67 345h1.9v8.0h-1.9z M392.31 345h1.9v10.8h-1.9z M394.96 345h1.9v13.3h-1.9z M397.61 345h1.9v14.2h-1.9z M400.26 345h1.9v13.7h-1.9z M402.91 345h1.9v11.7h-1.9z M405.55 345h1.9v10.0h-1.9z M408.20 345h1.9v8.0h-1.9z M410.85 345h1.9v5.8h-1.9z M413.50 345h1.9v3.3h-1.9z M416.15 345h1.9v1.3h-1.9z M442.63 345h1.9v0.5h-1.9z M445.27 345h1.9v0.5h-1.9z M471.75 345h1.9v0.5h-1.9z" fill="#f24a4a"/>
<path d="M0.8 362.5 L3.3 362.5 L6.7 361.3 L10.0 358.7 L13.3 355.0 L16.7 350.8 L20.0 347.0 L23.3 343.3 L26.7 340.0 L30.0 337.5 L33.3 335.3 L36.7 333.3 L40.0 331.7 L43.3 330.3 L46.7 329.3 L50.0 328.3 L53.3 327.7 L56.7 327.5 L60.0 328.0 L63.3 329.2 L66.7 330.5 L70.0 332.0 L73.3 333.3 L76.7 334.2 L80.0 333.8 L83.3 333.3 L86.7 332.8 L90.0 332.3 L93.3 332.0 L96.7 332.0 L100.0 332.2 L105.0 332.2 L110.0 332.0 L116.7 331.7 L123.3 331.3 L130.0 331.3 L136.7 332.5 L143.3 333.7 L147.5 335.8 L150.0 337.5 L153.3 340.0 L156.7 341.7 L160.0 343.0 L163.3 343.7 L166.7 344.2 L170.0 344.5 L173.3 344.3 L176.7 343.7 L180.0 343.0 L183.3 344.2 L186.7 346.7 L190.0 350.0 L193.3 354.2 L195.0 355.8 L198.3 360.0 L201.7 363.7 L205.0 366.3 L208.3 368.0 L211.7 368.7 L215.0 368.7 L218.3 368.0 L221.7 366.3 L225.0 364.2 L228.3 361.7 L231.7 359.2 L235.0 356.7 L238.3 353.7 L241.7 350.8 L245.0 348.0 L248.3 345.5 L251.7 343.3 L255.0 341.3 L258.3 339.2 L261.7 337.5 L265.0 335.8 L268.3 334.2 L271.7 332.5 L275.0 330.8 L278.3 329.2 L281.7 328.0 L285.0 327.2 L288.3 327.0 L290.0 327.5 L294.2 328.0 L298.3 328.3 L302.5 328.7 L306.7 328.3 L310.8 327.7 L315.0 326.7 L319.2 326.2 L323.3 326.7 L327.5 328.0 L331.7 329.7 L335.8 330.8 L340.0 331.7 L344.2 331.7 L348.3 331.2 L352.5 330.3 L356.7 329.5 L360.8 329.2 L365.0 329.7 L369.2 331.2 L373.3 332.5 L377.5 333.8 L381.7 335.8 L385.0 337.5 L388.3 340.8 L391.7 344.2 L395.0 347.5 L398.3 351.7 L401.7 355.8 L405.0 359.2 L408.3 362.0 L411.7 364.2 L415.0 365.5 L418.3 366.2 L421.7 365.3 L425.0 364.2 L428.3 363.0 L431.7 362.0 L435.0 361.2 L438.3 360.5 L441.7 360.3 L445.0 360.5 L448.3 360.5 L451.7 360.3 L455.0 359.7 L458.3 359.2 L461.7 358.7 L465.0 358.3 L468.3 358.3 L471.7 358.7 L475.0 358.3 L477.8 357.0" stroke="#5a5aff" stroke-width="0.9" fill="none" stroke-linejoin="round" stroke-linecap="round" stroke-opacity="1"/>
<path d="M0.8 360.0 L3.3 360.8 L5.8 360.0 L8.3 355.8 L10.8 350.8 L13.3 345.8 L16.7 340.8 L20.0 336.7 L23.3 333.3 L26.7 331.3 L30.0 330.0 L33.3 329.2 L36.7 328.3 L39.2 328.8 L41.7 327.2 L45.0 326.7 L50.0 326.3 L55.0 326.0 L57.5 326.3 L60.0 330.0 L63.3 332.5 L66.7 334.7 L70.0 336.3 L72.8 337.5 L75.8 336.3 L79.2 334.2 L82.5 333.0 L85.8 331.7 L89.2 330.8 L92.5 331.2 L95.8 332.2 L100.0 332.5 L103.3 332.7 L106.7 331.7 L110.0 331.7 L113.3 331.3 L116.7 330.8 L120.0 330.3 L123.3 330.8 L126.7 331.7 L130.0 332.5 L133.3 335.0 L136.7 335.8 L140.0 335.3 L143.3 334.7 L145.0 335.3 L147.5 340.0 L150.0 343.3 L153.3 345.0 L156.7 345.5 L160.0 345.3 L163.3 345.0 L166.7 344.7 L170.0 344.2 L173.3 343.0 L176.7 341.3 L179.2 340.0 L181.7 341.7 L185.0 347.5 L188.3 355.8 L191.7 362.5 L195.0 367.5 L195.0 368.3 L198.3 371.7 L201.7 374.2 L204.7 375.3 L208.3 372.5 L211.7 370.0 L215.0 368.0 L218.3 365.0 L221.7 360.8 L225.0 356.7 L228.3 353.0 L231.7 350.0 L235.0 347.5 L238.3 344.7 L241.7 342.0 L245.0 340.0 L248.3 338.3 L251.7 336.7 L255.0 334.2 L258.3 332.5 L261.7 331.3 L265.0 331.2 L268.3 329.7 L271.7 328.0 L275.0 326.3 L278.3 324.5 L281.7 323.0 L285.0 324.7 L288.3 327.0 L290.0 328.0 L294.2 329.2 L298.3 329.7 L302.5 328.8 L306.7 328.0 L310.8 326.7 L313.3 325.0 L315.8 324.2 L318.3 325.3 L320.8 326.7 L323.3 328.3 L326.7 330.8 L330.0 333.0 L333.3 333.7 L336.7 333.3 L340.0 332.5 L343.3 331.7 L346.7 330.0 L350.0 328.0 L353.3 328.0 L356.7 328.7 L360.0 328.8 L362.5 329.7 L365.0 331.7 L367.5 334.2 L370.0 335.8 L373.3 336.3 L376.7 336.2 L379.2 337.5 L381.7 340.0 L384.2 343.3 L385.0 347.5 L388.3 350.8 L391.7 354.2 L395.0 359.2 L398.3 365.0 L401.7 369.2 L405.0 371.7 L406.7 372.5 L409.2 371.3 L411.7 370.8 L414.2 370.0 L416.7 368.0 L419.2 365.0 L421.7 361.7 L425.0 359.7 L428.3 358.7 L431.7 358.3 L435.0 358.0 L437.5 358.7 L440.0 360.3 L442.5 361.3 L445.0 361.3 L448.3 360.8 L451.7 359.7 L455.0 358.7 L458.3 357.5 L461.7 356.7 L465.0 356.3 L468.3 357.5 L470.8 359.2 L473.3 359.7 L475.8 357.0 L477.8 354.7" stroke="#ff5a5a" stroke-width="0.9" fill="none" stroke-linejoin="round" stroke-linecap="round" stroke-opacity="1"/>
<clipPath id="c"><rect x="0" y="384" width="579" height="36"/></clipPath>
<path d="M6.7 409.7 L10.0 408.0 L16.7 405.0 L25.0 404.7 L33.3 404.3 L38.0 404.7 L40.8 403.0 L45.0 404.3 L50.0 403.3 L56.7 403.0 L58.0 403.8 L59.7 410.5 L63.3 408.8 L70.0 408.5 L72.5 409.7 L75.0 406.3 L80.0 404.3 L83.3 406.0 L87.5 403.8 L91.7 405.5 L95.8 407.2 L100.0 406.3 L105.0 404.0 L108.3 405.7 L113.3 403.0 L116.7 404.7 L120.0 403.0 L125.0 405.3 L128.3 404.0 L131.7 409.7 L136.7 408.0 L143.3 405.3 L146.7 411.3 L150.0 415.3 L155.0 412.3 L160.0 410.7 L165.0 408.7 L168.3 409.7 L171.7 407.3 L178.3 406.3 L181.7 411.3 L185.0 417.3 L188.3 419.7 L193.0 421.0 L196.7 418.0 L200.0 421.0 L203.3 421.0 L206.7 414.7 L210.0 413.0 L213.3 414.0 L216.7 411.3 L221.7 409.7 L228.3 408.7 L233.3 409.7 L238.3 407.3 L243.3 406.3 L250.0 404.7 L256.7 403.0 L263.3 402.0 L265.0 404.0 L268.3 401.3 L273.3 400.7 L278.3 398.7 L282.7 398.0 L285.0 403.0 L288.3 406.3 L293.3 404.7 L296.7 404.0 L301.7 401.3 L305.0 404.0 L308.3 400.7 L311.7 402.0 L314.0 399.0 L318.3 404.7 L320.0 407.3 L323.3 406.3 L326.7 408.7 L331.7 409.7 L336.7 406.3 L340.0 407.3 L345.0 404.7 L350.0 403.0 L353.3 405.3 L358.3 404.0 L361.7 406.3 L365.0 409.7 L370.0 411.3 L373.3 408.7 L376.7 407.3 L380.0 411.3 L383.3 414.7 L388.3 416.3 L391.7 418.0 L395.0 421.0 L405.0 421.0 L408.3 416.3 L411.7 417.3 L415.0 414.7 L418.3 412.3 L421.7 410.3 L425.0 412.0 L430.0 413.0 L433.3 414.7 L436.7 415.3 L440.0 417.3 L443.3 415.7 L446.7 414.7 L451.7 412.3 L455.0 413.7 L458.3 413.0 L463.3 414.0 L466.7 416.3 L470.0 418.0 L473.3 414.0 L476.0 410.3 L477.7 407.3" stroke="#b4b4b4" stroke-width="0.8" fill="none" clip-path="url(#c)" stroke-linejoin="round"/>
<text x="2" y="7" fill="#707070" text-anchor="start"  stroke="#707070" stroke-width="0.1">GD: 200</text>
<text x="2" y="13.5" fill="#3c3cff" text-anchor="start" stroke="#3c3cff" stroke-width="0.15">GD: 150</text>
<text x="2" y="20" fill="#35e035" text-anchor="start" stroke="#35e035" stroke-width="0.15">GD: 50</text>
<text x="2" y="26.7" fill="#4a4a4a" text-anchor="start"  stroke="#4a4a4a" stroke-width="0.1">Darvas-Box 3 | 3</text>
<text x="2" y="39.4" fill="#f46060" text-anchor="start"  stroke="#f46060" stroke-width="0.1">Horizontale Linie</text>
<text x="2" y="46.2" fill="#f46060" text-anchor="start"  stroke="#f46060" stroke-width="0.1">Horizontale Linie</text>
<text x="-1.2" y="244.6" fill="#4a4a4a" text-anchor="start"  font-size="5.0" stroke="#4a4a4a" stroke-width="0.1">42.277.248 S. / 7,7 Mrd.</text>
<text x="-1.2" y="278.4" fill="#4a4a4a" text-anchor="start"  font-size="5.0" stroke="#4a4a4a" stroke-width="0.1">21.138.624 S.</text>
<text x="2" y="354.3" fill="#5a5a5a" text-anchor="start"  stroke="#5a5a5a" stroke-width="0.1">MACD: 12 | 26 | 9</text>
<text x="2" y="415.2" fill="#6a6a6a" text-anchor="start"  stroke="#6a6a6a" stroke-width="0.1">RSI (Relative Strength Index): 14</text>
<text x="24.5" y="319.4" fill="#747474" text-anchor="middle"  font-size="5.8" stroke="#747474" stroke-width="0.1">01.05.</text>
<text x="24.5" y="381.7" fill="#747474" text-anchor="middle"  font-size="5.8" stroke="#747474" stroke-width="0.1">01.05.</text>
<text x="80" y="319.4" fill="#747474" text-anchor="middle"  font-size="5.8" stroke="#747474" stroke-width="0.1">02.06.</text>
<text x="80" y="381.7" fill="#747474" text-anchor="middle"  font-size="5.8" stroke="#747474" stroke-width="0.1">02.06.</text>
<text x="133.5" y="319.4" fill="#747474" text-anchor="middle"  font-size="5.8" stroke="#747474" stroke-width="0.1">01.07.</text>
<text x="133.5" y="381.7" fill="#747474" text-anchor="middle"  font-size="5.8" stroke="#747474" stroke-width="0.1">01.07.</text>
<text x="192" y="319.4" fill="#747474" text-anchor="middle"  font-size="5.8" stroke="#747474" stroke-width="0.1">01.08.</text>
<text x="192" y="381.7" fill="#747474" text-anchor="middle"  font-size="5.8" stroke="#747474" stroke-width="0.1">01.08.</text>
<text x="247" y="319.4" fill="#747474" text-anchor="middle"  font-size="5.8" stroke="#747474" stroke-width="0.1">02.09.</text>
<text x="247" y="381.7" fill="#747474" text-anchor="middle"  font-size="5.8" stroke="#747474" stroke-width="0.1">02.09.</text>
<text x="303" y="319.4" fill="#747474" text-anchor="middle"  font-size="5.8" stroke="#747474" stroke-width="0.1">01.10.</text>
<text x="303" y="381.7" fill="#747474" text-anchor="middle"  font-size="5.8" stroke="#747474" stroke-width="0.1">01.10.</text>
<text x="363.5" y="319.4" fill="#747474" text-anchor="middle"  font-size="5.8" stroke="#747474" stroke-width="0.1">03.11.</text>
<text x="363.5" y="381.7" fill="#747474" text-anchor="middle"  font-size="5.8" stroke="#747474" stroke-width="0.1">03.11.</text>
<text x="414.5" y="319.4" fill="#747474" text-anchor="middle"  font-size="5.8" stroke="#747474" stroke-width="0.1">01.12.</text>
<text x="414.5" y="381.7" fill="#747474" text-anchor="middle"  font-size="5.8" stroke="#747474" stroke-width="0.1">01.12.</text>
<text x="471" y="319.4" fill="#747474" text-anchor="middle"  font-size="5.8" stroke="#747474" stroke-width="0.1">2026</text>
<text x="471" y="381.7" fill="#747474" text-anchor="middle"  font-size="5.8" stroke="#747474" stroke-width="0.1">2026</text>
<text x="527" y="319.4" fill="#747474" text-anchor="middle"  font-size="5.8" stroke="#747474" stroke-width="0.1">02.02.</text>
<text x="527" y="381.7" fill="#747474" text-anchor="middle"  font-size="5.8" stroke="#747474" stroke-width="0.1">02.02.</text>
<text x="581" y="319.4" fill="#747474" text-anchor="middle"  font-size="5.8" stroke="#747474" stroke-width="0.1">02.03.</text>
<text x="581" y="381.7" fill="#747474" text-anchor="middle"  font-size="5.8" stroke="#747474" stroke-width="0.1">02.03.</text>
<text x="580" y="3.839842687918714" fill="#5e5e5e" text-anchor="start"  font-size="5.5" stroke="#5e5e5e" stroke-width="0.1">245,000</text>
<text x="580" y="14.100000000000001" fill="#5e5e5e" text-anchor="start"  font-size="5.5" stroke="#5e5e5e" stroke-width="0.1">240,000</text>
<text x="580" y="24.57617641684134" fill="#5e5e5e" text-anchor="start"  font-size="5.5" stroke="#5e5e5e" stroke-width="0.1">235,000</text>
<text x="580" y="35.27766413479284" fill="#5e5e5e" text-anchor="start"  font-size="5.5" stroke="#5e5e5e" stroke-width="0.1">230,000</text>
<text x="580" y="46.214368118055404" fill="#5e5e5e" text-anchor="start"  font-size="5.5" stroke="#5e5e5e" stroke-width="0.1">225,000</text>
<text x="580" y="57.39686119003974" fill="#5e5e5e" text-anchor="start"  font-size="5.5" stroke="#5e5e5e" stroke-width="0.1">220,000</text>
<text x="580" y="68.83644545864986" fill="#5e5e5e" text-anchor="start"  font-size="5.5" stroke="#5e5e5e" stroke-width="0.1">215,000</text>
<text x="580" y="80.54522096996243" fill="#5e5e5e" text-anchor="start"  font-size="5.5" stroke="#5e5e5e" stroke-width="0.1">210,000</text>
<text x="580" y="92.53616263570292" fill="#5e5e5e" text-anchor="start"  font-size="5.5" stroke="#5e5e5e" stroke-width="0.1">205,000</text>
<text x="580" y="104.8232066606718" fill="#5e5e5e" text-anchor="start"  font-size="5.5" stroke="#5e5e5e" stroke-width="0.1">200,000</text>
<text x="580" y="143.6168696960005" fill="#5e5e5e" text-anchor="start"  font-size="5.5" stroke="#5e5e5e" stroke-width="0.1">185,000</text>
<text x="580" y="157.25059925200617" fill="#5e5e5e" text-anchor="start"  font-size="5.5" stroke="#5e5e5e" stroke-width="0.1">180,000</text>
<text x="580" y="171.2684276306343" fill="#5e5e5e" text-anchor="start"  font-size="5.5" stroke="#5e5e5e" stroke-width="0.1">175,000</text>
<text x="580" y="185.69262597876468" fill="#5e5e5e" text-anchor="start"  font-size="5.5" stroke="#5e5e5e" stroke-width="0.1">170,000</text>
<text x="580" y="200.547460442046" fill="#5e5e5e" text-anchor="start"  font-size="5.5" stroke="#5e5e5e" stroke-width="0.1">165,000</text>
<text x="580" y="215.85943779462264" fill="#5e5e5e" text-anchor="start"  font-size="5.5" stroke="#5e5e5e" stroke-width="0.1">160,000</text>
<text x="580" y="231.65759007595778" fill="#5e5e5e" text-anchor="start"  font-size="5.5" stroke="#5e5e5e" stroke-width="0.1">155,000</text>
<text x="580" y="247.97380591267807" fill="#5e5e5e" text-anchor="start"  font-size="5.5" stroke="#5e5e5e" stroke-width="0.1">150,000</text>
<text x="580" y="264.8432180264971" fill="#5e5e5e" text-anchor="start"  font-size="5.5" stroke="#5e5e5e" stroke-width="0.1">145,000</text>
<text x="580" y="273.4973491999232" fill="#5e5e5e" text-anchor="start"  font-size="5.5" stroke="#5e5e5e" stroke-width="0.1">142,500</text>
<text x="580" y="282.30465876458504" fill="#5e5e5e" text-anchor="start"  font-size="5.5" stroke="#5e5e5e" stroke-width="0.1">140,000</text>
<text x="580" y="291.27066710271777" fill="#5e5e5e" text-anchor="start"  font-size="5.5" stroke="#5e5e5e" stroke-width="0.1">137,500</text>
<text x="580" y="300.40119850401237" fill="#5e5e5e" text-anchor="start"  font-size="5.5" stroke="#5e5e5e" stroke-width="0.1">135,000</text>
<text x="580" y="309.70240389085956" fill="#5e5e5e" text-anchor="start"  font-size="5.5" stroke="#5e5e5e" stroke-width="0.1">132,500</text>
<text x="580" y="326.8" fill="#5e5e5e" text-anchor="start"  font-size="5.5" stroke="#5e5e5e" stroke-width="0.1">5,00</text>
<text x="580" y="336.8" fill="#5e5e5e" text-anchor="start"  font-size="5.5" stroke="#5e5e5e" stroke-width="0.1">2,50</text>
<text x="580" y="347.0" fill="#5e5e5e" text-anchor="start"  font-size="5.5" stroke="#5e5e5e" stroke-width="0.1">0,00</text>
<text x="580" y="366.5" fill="#5e5e5e" text-anchor="start"  font-size="5.5" stroke="#5e5e5e" stroke-width="0.1">-5,00</text>
<text x="580" y="388.5" fill="#5e5e5e" text-anchor="start"  font-size="5.5" stroke="#5e5e5e" stroke-width="0.1">100,00</text>
<text x="580" y="400.1" fill="#5e5e5e" text-anchor="start"  font-size="5.5" stroke="#5e5e5e" stroke-width="0.1">75,00</text>
<text x="580" y="411.8" fill="#5e5e5e" text-anchor="start"  font-size="5.5" stroke="#5e5e5e" stroke-width="0.1">50,00</text>
<text x="580" y="423.1" fill="#5e5e5e" text-anchor="start"  font-size="5.5" stroke="#5e5e5e" stroke-width="0.1">25,00</text>
<rect x="579.3" y="106.3" width="20.7" height="7.3" fill="#0cec0c"/>
<text x="581" y="111.95" fill="#0a2a0a" stroke="#0a2a0a" stroke-width="0.12" font-size="5.6">197,055</text>
<rect x="579.3" y="113.5" width="20.7" height="1.6" fill="#2828d0"/>
<rect x="579.3" y="115.1" width="20.7" height="1.3" fill="#7fae5a"/>
<rect x="579.3" y="116.8" width="20.7" height="6.2" fill="#fae81e"/>
<text x="581" y="121.90" fill="#2a2a00" stroke="#2a2a00" stroke-width="0.12" font-size="5.6">193,251</text>
<rect x="579.3" y="123" width="20.7" height="7.5" fill="#d87d87"/>
<text x="581" y="128.75" fill="#ffffff" stroke="#ffffff" stroke-width="0.12" font-size="5.6">192,874</text>
<rect x="581.6" y="131.6" width="18.4" height="5.8" fill="#fae81e"/>
<text x="583.2" y="136.29" fill="#2a2a00" stroke="#2a2a00" stroke-width="0.12" font-size="5.0">187,768</text>
<rect x="580.8" y="338.1" width="19.2" height="6.1" fill="#f41e1e"/>
<text x="582.4" y="342.80" fill="#ffffff" stroke="#ffffff" stroke-width="0.12" font-size="4.6">0,87119</text>
<rect x="579" y="350" width="19" height="2.8" fill="#f41e1e"/>
<rect x="579" y="352.7" width="19.0" height="7.3" fill="#2222ee"/>
<text x="581" y="358.43" fill="#ffffff" stroke="#ffffff" stroke-width="0.1" font-size="5.8">-3,260</text>
<rect x="579.3" y="403" width="20.7" height="7.4" fill="#707070"/>
<text x="581" y="408.70" fill="#101010" stroke="#101010" stroke-width="0.12" font-size="5.6">55,719</text>
</svg>
</body></html>
